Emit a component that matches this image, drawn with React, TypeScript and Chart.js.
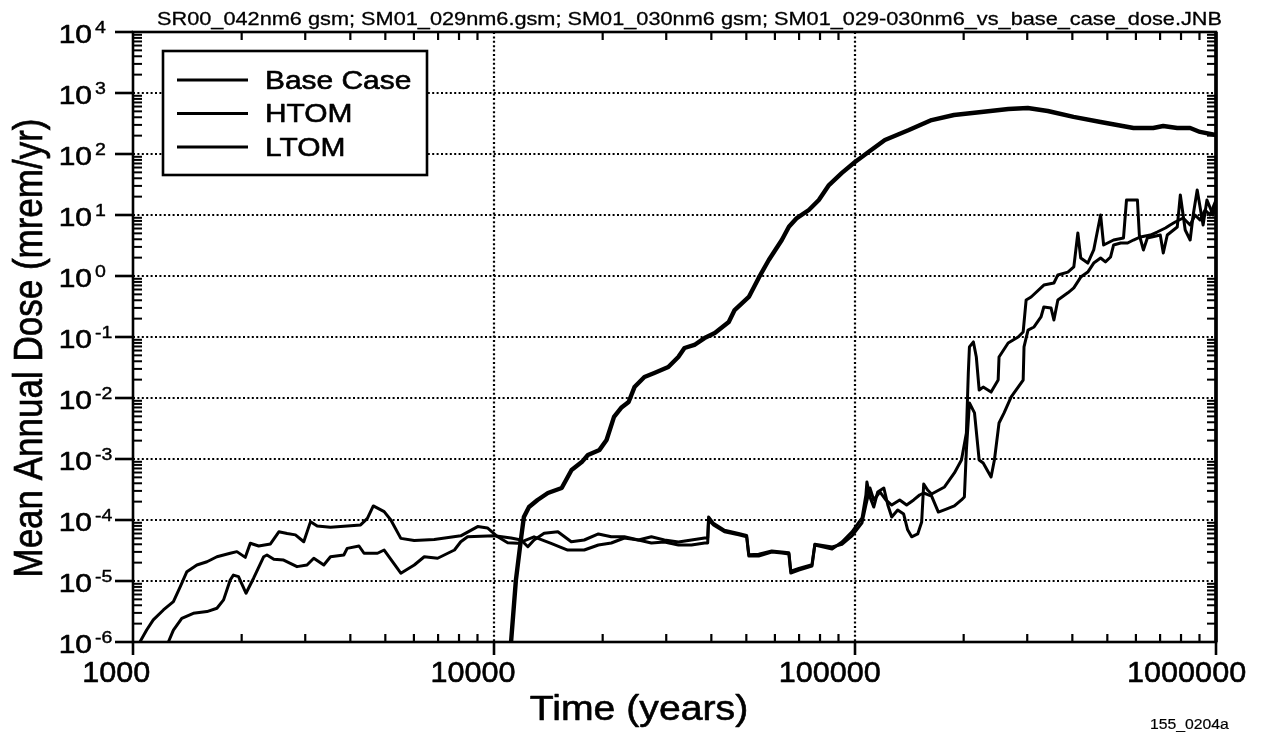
import { useEffect, useRef } from "react";
import { Chart, registerables } from "chart.js";

Chart.register(...registerables);

// ---------- text ----------
const TITLE = "SR00_042nm6 gsm; SM01_029nm6.gsm; SM01_030nm6 gsm; SM01_029-030nm6_vs_base_case_dose.JNB";
const X_TITLE = "Time (years)";
const Y_TITLE = "Mean Annual Dose (mrem/yr)";
const FOOTNOTE = "155_0204a";
const SERIES_NAMES = ["Base Case", "HTOM", "LTOM"];

// ---------- ticks ----------
const X_TICKS = [1000, 10000, 100000, 1000000];
const X_TICK_LABELS = ["1000", "10000", "100000", "1000000"];
const Y_TICK_BASE = "10";
const Y_TICK_EXPONENTS = [4, 3, 2, 1, 0, -1, -2, -3, -4, -5, -6];

// ---------- data ----------
const baseYears = [11000, 11150, 11500, 11900, 12100, 12500, 13200, 14100, 15400, 16400, 17500, 18200, 19600, 20500, 21500, 22500, 23600, 24500, 26100, 27800, 30400, 32400, 33700, 35900, 38300, 40900, 44700, 46400, 50800, 54100, 57700, 62700, 65600, 69000, 74500, 79400, 84700, 92000, 100000, 109000, 121000, 141000, 163000, 188000, 224000, 266000, 301000, 342000, 403000, 479000, 591000, 670000, 714000, 781000, 848000, 903000, 1000000];
const baseDose = [5e-7, 1e-6, 1.04e-5, 5.3e-5, 1.12e-4, 1.63e-4, 2.13e-4, 2.77e-4, 3.35e-4, 6.6e-4, 8.9e-4, 1.16e-3, 1.41e-3, 2.05e-3, 4.9e-3, 6.9e-3, 8.6e-3, 1.51e-2, 2.21e-2, 2.57e-2, 3.22e-2, 4.7e-2, 6.6e-2, 7.4e-2, 9.6e-2, 0.116, 0.176, 0.277, 0.453, 0.93, 1.83, 3.9, 6.4, 8.9, 12.1, 17.6, 31, 49, 74, 108, 170, 247, 360, 436, 489, 547, 568, 507, 405, 335, 267, 267, 288, 267, 267, 230, 205];

const htomYears = [1045, 1091, 1138, 1214, 1294, 1352, 1410, 1503, 1603, 1708, 1859, 1940, 2047, 2113, 2229, 2403, 2535, 2674, 2818, 2972, 3103, 3238, 3524, 4271, 4459, 4631, 4963, 5179, 5520, 6013, 6830, 8090, 9010, 9590, 10240, 10910, 11630, 12910, 14390, 16000, 17780, 19460, 21130, 22960, 25120, 27290, 29650, 32430, 35240, 38320, 39080, 39300, 40550, 43500, 47600, 50100, 50800, 54100, 58800, 62700, 65600, 66400, 69900, 76000, 77400, 86400, 92000, 98100, 104600, 107200, 107900, 110000, 112700, 115600, 120200, 123300, 126400, 131300, 136400, 139900, 143500, 149200, 153000, 155000, 158900, 163000, 177000, 188500, 197200, 203500, 206000, 207500, 212800, 216800, 220800, 226500, 238200, 249200, 250600, 265600, 283100, 292300, 297900, 307500, 333500, 355600, 364700, 388800, 403800, 414300, 422000, 441400, 458400, 479000, 488300, 520300, 554300, 565000, 605800, 613300, 629300, 645500, 700900, 714400, 732900, 781000, 796500, 821700, 848000, 864500, 887000, 921000, 944000, 981500, 1000000];
const htomDose = [1.0e-6, 1.57e-6, 2.3e-6, 3.35e-6, 4.6e-6, 8.1e-6, 1.42e-5, 1.83e-5, 2.07e-5, 2.5e-5, 2.85e-5, 3.03e-5, 2.44e-5, 4.15e-5, 3.75e-5, 4.05e-5, 6.4e-5, 6.0e-5, 5.7e-5, 4.4e-5, 9.4e-5, 8.0e-5, 7.6e-5, 8.3e-5, 1.06e-4, 1.7e-4, 1.37e-4, 1.0e-4, 5.0e-5, 4.6e-5, 4.8e-5, 5.5e-5, 7.8e-5, 7.4e-5, 5.3e-5, 4.25e-5, 4.15e-5, 5.3e-5, 4.15e-5, 3.22e-5, 3.22e-5, 3.89e-5, 4.2e-5, 5.07e-5, 4.7e-5, 4.2e-5, 4.36e-5, 3.89e-5, 3.89e-5, 4.2e-5, 4.2e-5, 1.0e-4, 8.3e-5, 6.4e-5, 5.7e-5, 5.3e-5, 2.57e-5, 2.57e-5, 2.99e-5, 2.87e-5, 2.77e-5, 1.35e-5, 1.51e-5, 1.76e-5, 3.9e-5, 3.35e-5, 4.36e-5, 6.4e-5, 1.08e-4, 2.57e-4, 4.2e-4, 2.38e-4, 1.63e-4, 2.88e-4, 3.35e-4, 1.76e-4, 1.12e-4, 1.46e-4, 1.25e-4, 6.9e-5, 5.3e-5, 5.9e-5, 9.3e-5, 3.89e-4, 3.1e-4, 2.67e-4, 3.48e-4, 5.9e-4, 9.6e-4, 2.67e-3, 2.57e-2, 6.9e-2, 8.3e-2, 4.7e-2, 1.35e-2, 1.51e-2, 1.25e-2, 1.97e-2, 4.7e-2, 7.98e-2, 0.1, 0.121, 0.405, 0.453, 0.711, 0.767, 1.04, 1.16, 1.41, 5.07, 1.97, 1.63, 2.67, 10, 3.22, 3.89, 4.2, 17.6, 17.6, 4.7, 2.67, 4.2, 4.7, 2.38, 4.7, 6.35, 21.3, 5.68, 3.89, 10, 25.7, 6.86, 17.6, 10, 14.6];

const ltomYears = [1253, 1294, 1365, 1469, 1603, 1708, 1782, 1859, 1897, 1960, 2056, 2158, 2302, 2350, 2455, 2614, 2847, 3034, 3168, 3377, 3524, 3837, 3920, 4227, 4365, 4756, 4963, 5400, 5520, 6013, 6410, 6980, 7770, 8090, 8450, 10020, 11150, 11890, 12410, 12910, 13770, 15030, 16370, 17780, 19460, 21130, 22960, 25120, 27290, 29650, 32430, 35240, 38320, 39080, 39300, 40550, 43500, 47600, 50100, 50800, 54100, 58800, 62700, 65600, 66400, 69900, 76000, 77400, 86400, 92000, 98100, 104600, 107200, 110000, 112700, 117200, 121700, 126400, 133000, 139000, 145400, 151000, 155000, 163000, 170200, 179000, 188500, 197200, 200900, 203500, 207500, 214300, 220800, 226500, 238200, 243300, 250600, 258800, 270800, 283100, 292300, 293900, 301500, 313300, 327500, 333500, 349100, 355600, 364700, 388800, 403800, 422000, 441400, 458400, 479000, 494000, 510500, 520300, 544500, 569000, 590600, 617600, 658000, 687100, 724400, 746500, 770900, 811000, 848000, 875000, 903000, 933000, 962000, 1000000];
const ltomDose = [1.0e-6, 1.57e-6, 2.44e-6, 2.95e-6, 3.15e-6, 3.57e-6, 4.9e-6, 1.04e-5, 1.25e-5, 1.18e-5, 6.3e-6, 1.11e-5, 2.5e-5, 2.67e-5, 2.27e-5, 2.2e-5, 1.72e-5, 1.83e-5, 2.36e-5, 1.83e-5, 2.5e-5, 2.67e-5, 3.43e-5, 3.75e-5, 2.85e-5, 2.85e-5, 3.22e-5, 1.61e-5, 1.34e-5, 1.83e-5, 2.5e-5, 2.36e-5, 3.22e-5, 4.4e-5, 5.3e-5, 5.5e-5, 5.07e-5, 4.7e-5, 3.65e-5, 4.7e-5, 6.05e-5, 6.4e-5, 4.4e-5, 4.7e-5, 5.9e-5, 5.3e-5, 5.3e-5, 4.7e-5, 5.3e-5, 4.7e-5, 4.36e-5, 4.7e-5, 5.07e-5, 5.07e-5, 1.12e-4, 8.8e-5, 6.8e-5, 6.0e-5, 5.6e-5, 2.7e-5, 2.75e-5, 3.1e-5, 3.0e-5, 2.9e-5, 1.45e-5, 1.6e-5, 1.85e-5, 4.0e-5, 3.6e-5, 4.0e-5, 5.5e-5, 9.0e-5, 1.76e-4, 3.35e-4, 2.13e-4, 2.88e-4, 2.13e-4, 1.76e-4, 2.13e-4, 1.76e-4, 2.13e-4, 2.57e-4, 2.77e-4, 2.47e-4, 1.35e-4, 1.51e-4, 1.7e-4, 2.13e-4, 2.38e-4, 1.41e-3, 8.3e-3, 5.7e-3, 9.6e-4, 8.6e-4, 5.07e-4, 9.6e-4, 3.89e-3, 5.7e-3, 1.04e-2, 1.51e-2, 1.97e-2, 6.9e-2, 0.13, 0.146, 0.213, 0.31, 0.3, 0.19, 0.405, 0.53, 0.64, 0.96, 1.16, 1.63, 1.97, 1.7, 2.05, 3.22, 3.47, 3.47, 3.89, 4.36, 4.7, 5.26, 6.12, 6.86, 7.67, 8.93, 6.86, 10, 8.28, 12.1, 10, 17.6];

// ---------- drawing helpers ----------
const FONT = '"Liberation Sans", Arial, Helvetica, sans-serif';

function drawText(
  ctx: CanvasRenderingContext2D,
  s: string,
  x: number,
  y: number,
  size: number,
  align: CanvasTextAlign,
  sx = 1,
  baseline: CanvasTextBaseline = "middle",
  heavy = 0.6
) {
  ctx.save();
  ctx.font = `${size}px ${FONT}`;
  ctx.textAlign = align;
  ctx.textBaseline = baseline;
  ctx.translate(x, y);
  ctx.scale(sx, 1);
  ctx.fillText(s, 0, 0);
  if (heavy > 0) {
    ctx.lineWidth = heavy;
    ctx.strokeStyle = "#000";
    ctx.lineJoin = "round";
    ctx.strokeText(s, 0, 0);
  }
  ctx.restore();
}

function line(ctx: CanvasRenderingContext2D, x1: number, y1: number, x2: number, y2: number) {
  ctx.beginPath();
  ctx.moveTo(x1, y1);
  ctx.lineTo(x2, y2);
  ctx.stroke();
}

const gridPlugin = {
  id: "dottedGrid",
  beforeDatasetsDraw(chart: any) {
    const { ctx, chartArea: a, scales } = chart;
    const xs = scales.x;
    const ys = scales.y;
    ctx.save();
    ctx.strokeStyle = "#000";
    ctx.lineWidth = 2.2;
    ctx.setLineDash([2, 2.4]);
    X_TICKS.slice(1, -1).forEach((v) => {
      const px = xs.getPixelForValue(v);
      line(ctx, px, a.top, px, a.bottom);
    });
    Y_TICK_EXPONENTS.slice(1, -1).forEach((e) => {
      const py = ys.getPixelForValue(Math.pow(10, e));
      line(ctx, a.left, py, a.right, py);
    });
    ctx.restore();
  },
};

const decorPlugin = {
  id: "decor",
  afterDraw(chart: any) {
    const { ctx, chartArea: a, scales } = chart;
    const xs = scales.x;
    const ys = scales.y;
    ctx.save();
    ctx.strokeStyle = "#000";
    ctx.fillStyle = "#000";
    ctx.setLineDash([]);
    ctx.lineCap = "butt";

    // minor x ticks (top & bottom, inward)
    ctx.lineWidth = 2.2;
    for (let d = 3; d < 6; d++) {
      for (let m = 2; m <= 9; m++) {
        const px = xs.getPixelForValue(m * Math.pow(10, d));
        line(ctx, px, a.bottom, px, a.bottom - 8);
        line(ctx, px, a.top, px, a.top + 8);
      }
    }
    // minor y ticks (left & right, inward)
    ctx.lineWidth = 2;
    for (let d = -6; d < 4; d++) {
      for (let m = 2; m <= 9; m++) {
        const py = ys.getPixelForValue(m * Math.pow(10, d));
        line(ctx, a.left, py, a.left + 9, py);
        line(ctx, a.right, py, a.right - 9, py);
      }
    }
    // major ticks (outward)
    ctx.lineWidth = 2.6;
    X_TICKS.forEach((v) => {
      const px = xs.getPixelForValue(v);
      line(ctx, px, a.bottom, px, a.bottom + 13);
    });
    Y_TICK_EXPONENTS.forEach((e) => {
      const py = ys.getPixelForValue(Math.pow(10, e));
      line(ctx, a.left - 18, py, a.left, py);
    });

    // frame
    ctx.lineWidth = 2.6;
    ctx.strokeRect(a.left, a.top, a.right - a.left, a.bottom - a.top);
    ctx.lineWidth = 3.6;
    line(ctx, a.right, a.top, a.right, a.bottom);

    // x tick labels
    X_TICKS.forEach((v, i) => {
      const lab = X_TICK_LABELS[i];
      const px = xs.getPixelForValue(v) - 4.2 * lab.length;
      drawText(ctx, lab, px, a.bottom + 32, 30, "center", 1.02);
    });
    // y tick labels 10^n
    Y_TICK_EXPONENTS.forEach((e) => {
      const py = ys.getPixelForValue(Math.pow(10, e));
      drawText(ctx, Y_TICK_BASE, 92, py + 4, 26, "right", 1.15);
      drawText(ctx, String(e), 95, py - 4, 17, "left", 1.15, "middle", 0.4);
    });

    // axis titles
    drawText(ctx, X_TITLE, 639, 710, 35, "center", 1.12);
    ctx.save();
    ctx.translate(31, 348);
    ctx.rotate(-Math.PI / 2);
    ctx.scale(1, 1.15);
    ctx.font = `35px ${FONT}`;
    ctx.textAlign = "center";
    ctx.textBaseline = "middle";
    ctx.fillText(Y_TITLE, 0, 0);
    ctx.lineWidth = 0.6;
    ctx.strokeText(Y_TITLE, 0, 0);
    ctx.restore();

    // title, fitted between 157 and 1222
    ctx.save();
    ctx.font = `18.6px ${FONT}`;
    const w = ctx.measureText(TITLE).width;
    ctx.restore();
    drawText(ctx, TITLE, 157, 25, 18.6, "left", 1065 / w, "alphabetic", 0.3);

    // footnote
    drawText(ctx, FOOTNOTE, 1150, 729, 15, "left", 1.05, "alphabetic", 0.2);

    // legend
    const lx = 163, ly = 51, lw = 264, lh = 124;
    ctx.fillStyle = "#fff";
    ctx.fillRect(lx, ly, lw, lh);
    ctx.fillStyle = "#000";
    ctx.lineWidth = 2.6;
    ctx.strokeRect(lx, ly, lw, lh);
    const rows = [80, 113.5, 147];
    chart.data.datasets.forEach((ds: any, i: number) => {
      ctx.lineWidth = 3;
      line(ctx, 177, rows[i], 248, rows[i]);
      drawText(ctx, ds.label, 265, rows[i] + 1.5, 26, "left", 1.15);
    });

    ctx.restore();
  },
};

function pts(xs: number[], ys: number[]) {
  return xs.map((x, i) => ({ x, y: ys[i] }));
}

export default function App() {
  const ref = useRef<HTMLCanvasElement>(null);
  useEffect(() => {
    document.body.style.margin = "0";
    const canvas = ref.current!;
    const chart = new Chart(canvas, {
      type: "line",
      data: {
        datasets: [
          { label: SERIES_NAMES[0], data: pts(baseYears, baseDose), borderColor: "#000", borderWidth: 4.4 },
          { label: SERIES_NAMES[1], data: pts(htomYears, htomDose), borderColor: "#000", borderWidth: 3 },
          { label: SERIES_NAMES[2], data: pts(ltomYears, ltomDose), borderColor: "#000", borderWidth: 3 },
        ],
      },
      options: {
        animation: false,
        responsive: false,
        devicePixelRatio: 1,
        layout: { padding: { left: 133, top: 32, right: 49, bottom: 91 } },
        elements: {
          point: { radius: 0, hoverRadius: 0 },
          line: { tension: 0, borderJoinStyle: "round", borderCapStyle: "round", fill: false },
        },
        scales: {
          x: { type: "logarithmic", min: 1000, max: 1000000, display: false },
          y: { type: "logarithmic", min: 1e-6, max: 1e4, display: false },
        },
        plugins: { legend: { display: false }, tooltip: { enabled: false }, title: { display: false } },
        events: [],
      },
      plugins: [gridPlugin, decorPlugin],
    } as any);
    return () => chart.destroy();
  }, []);
  return <canvas ref={ref} width={1265} height={733} style={{ display: "block", width: 1265, height: 733 }} />;
}
